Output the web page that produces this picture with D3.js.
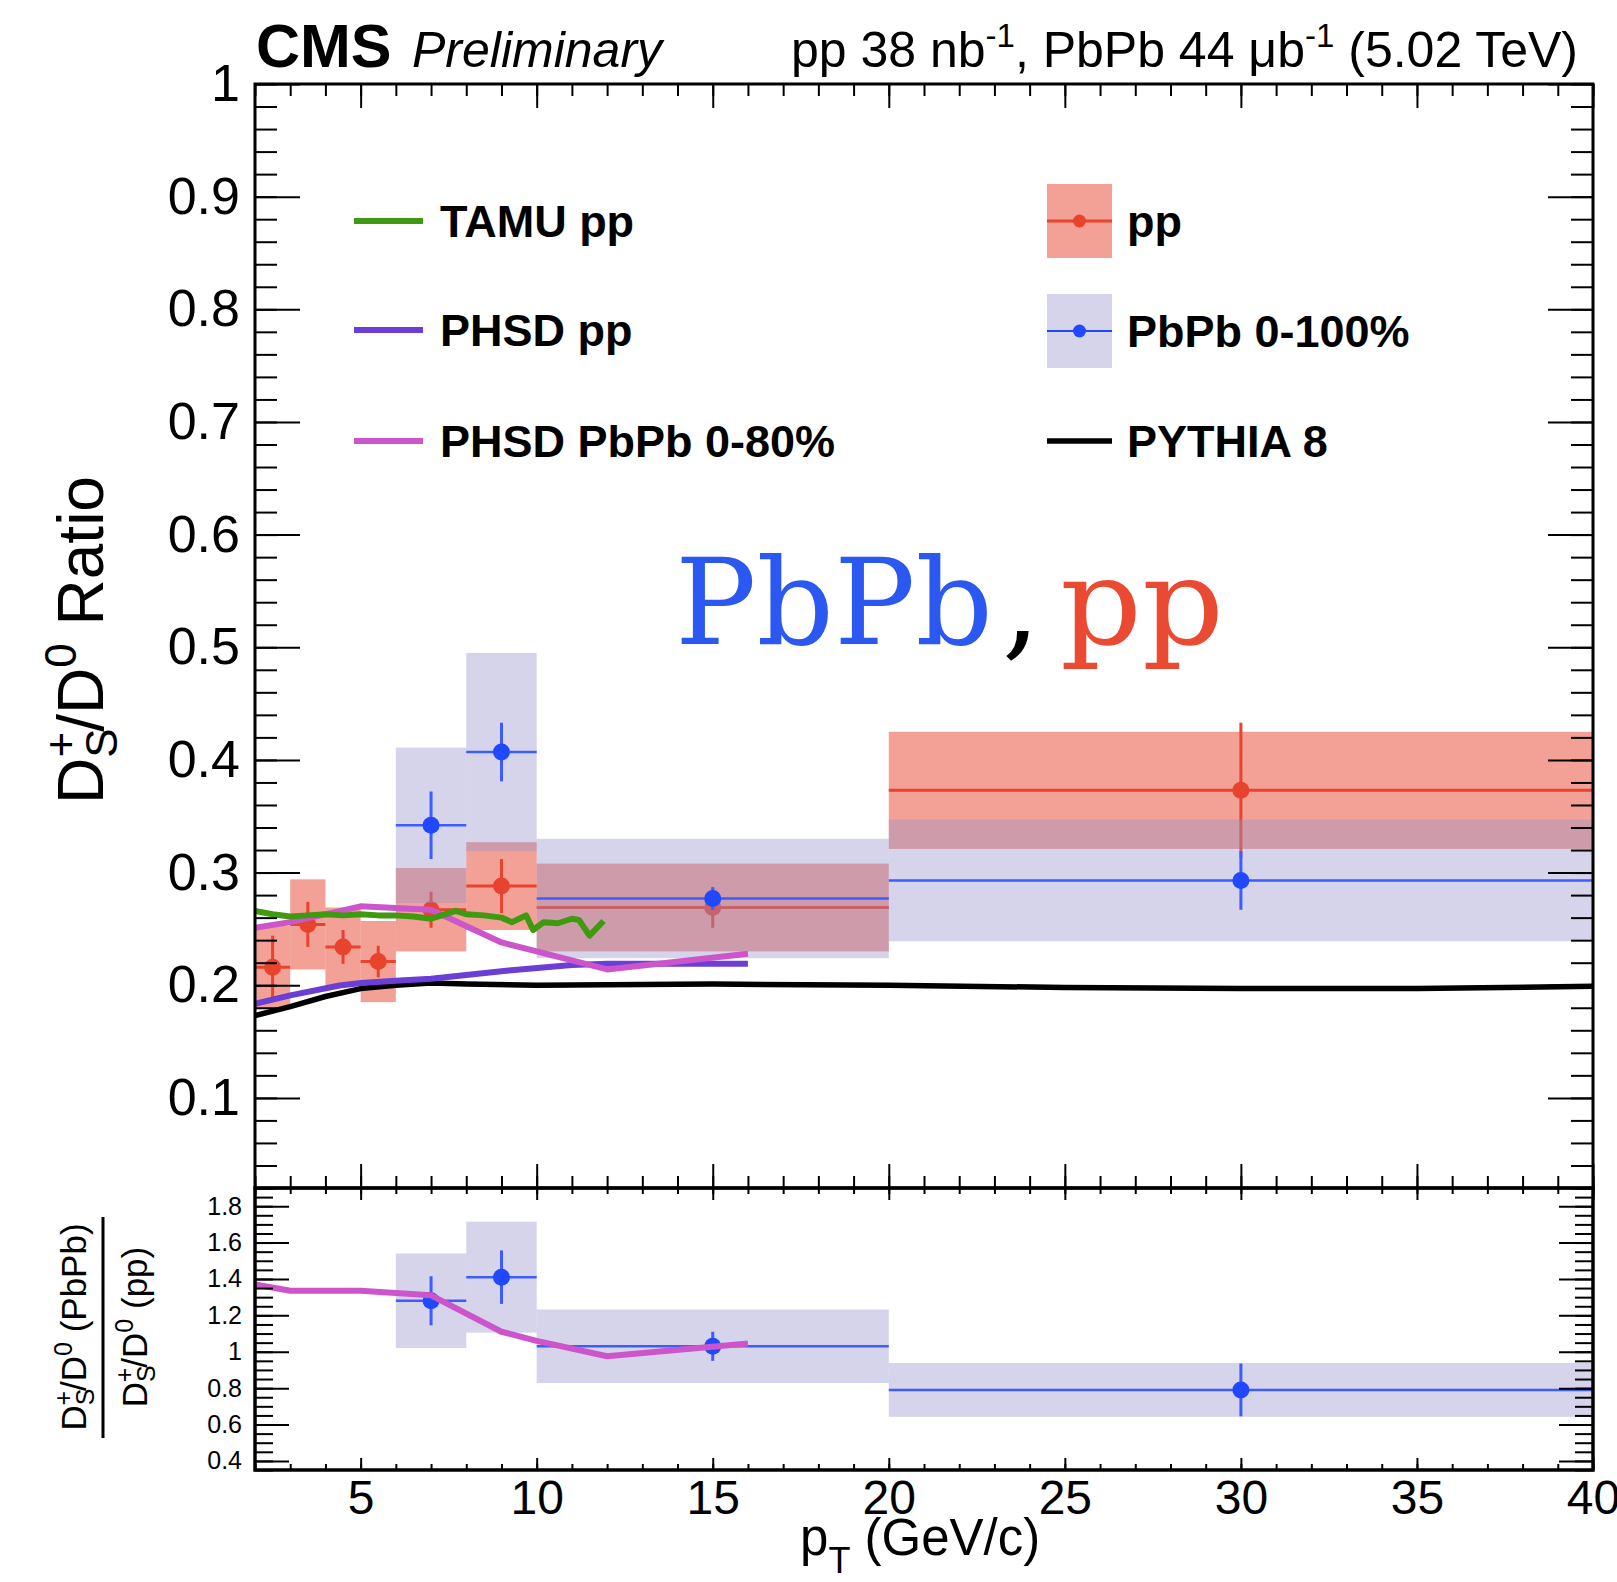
<!DOCTYPE html>
<html>
<head>
<meta charset="utf-8">
<script src="https://cdn.jsdelivr.net/npm/d3@7"></script>
<style>
body { margin: 0; background: #fff; }
svg text { font-family: "Liberation Sans", Arial, Helvetica, sans-serif; }
svg text.big { font-family: "DejaVu Serif", "Courier New", serif; }
</style>
</head>
<body>
<svg id="chart" width="1617" height="1582"></svg>
<script>
// pp data, D_s/D0 ratio per pT bin
var ppLo = [2, 3, 4, 5, 6, 8, 10, 20];
var ppHi = [3, 4, 5, 6, 8, 10, 20, 40];
var ppPt = [2.5, 3.5, 4.5, 5.5, 7, 9, 15, 30];
var ppVal = [0.216, 0.254, 0.234, 0.221, 0.267, 0.288, 0.269, 0.373];
var ppStat = [0.028, 0.020, 0.015, 0.014, 0.016, 0.024, 0.018, 0.060];
var ppSyst = [0.037, 0.040, 0.035, 0.036, 0.037, 0.039, 0.039, 0.052];

// PbPb 0-100%
var pbLo = [6, 8, 10, 20];
var pbHi = [8, 10, 20, 40];
var pbPt = [7, 9, 15, 30];
var pbVal = [0.342, 0.407, 0.277, 0.293];
var pbStat = [0.030, 0.026, 0.010, 0.026];
var pbSyst = [0.069, 0.088, 0.053, 0.054];

// PbPb / pp double ratio
var ratioVal = [1.28, 1.41, 1.03, 0.79];
var ratioStat = [0.135, 0.147, 0.080, 0.145];
var ratioSyst = [0.260, 0.305, 0.202, 0.148];

// model curves
var pythiaPt = [2, 3, 4, 5, 6, 7, 8, 10, 15, 20, 25, 30, 35, 40];
var pythiaVal = [0.173, 0.181, 0.190, 0.197, 0.200, 0.202, 0.201, 0.200, 0.201, 0.200, 0.198, 0.197, 0.197, 0.199];
var phsdPpPt = [2, 3, 4.4, 5, 6, 7, 9.2, 11, 12, 16];
var phsdPpVal = [0.1835, 0.191, 0.1998, 0.202, 0.204, 0.2057, 0.213, 0.218, 0.219, 0.219];
var phsdPbPt = [2, 3, 5, 7, 9, 10, 12, 16];
var phsdPbVal = [0.251, 0.256, 0.270, 0.267, 0.238, 0.230, 0.214, 0.228];
var tamuPt = [2, 2.5, 3, 3.5, 4, 4.5, 5, 5.5, 6, 6.5, 7, 7.3, 7.7, 8, 8.5, 9, 9.3, 9.5, 9.7, 9.9, 10.2, 10.6, 11, 11.2, 11.5, 11.9];
var tamuVal = [0.266, 0.263, 0.261, 0.262, 0.263, 0.262, 0.263, 0.262, 0.262, 0.261, 0.259, 0.262, 0.266, 0.263, 0.262, 0.260, 0.256, 0.259, 0.262, 0.249, 0.256, 0.255, 0.259, 0.258, 0.244, 0.257];
var ratioModelPt = [2, 3, 5, 7, 9, 10, 12, 16];
var ratioModelVal = [1.37, 1.335, 1.335, 1.31, 1.11, 1.06, 0.975, 1.045];

// tick labels
var mainTicks = [0.1, 0.2, 0.3, 0.4, 0.5, 0.6, 0.7, 0.8, 0.9, 1];
var ratioTicks = [0.4, 0.6, 0.8, 1, 1.2, 1.4, 1.6, 1.8];
var ptTicks = [5, 10, 15, 20, 25, 30, 35, 40];

var red = "#e8432d", blue = "#2048ff";
var ppFill = "rgba(232,66,46,0.5)", pbFill = "rgba(150,147,202,0.4)";

var svg = d3.select("#chart");
var L = 255, R = 1593, T = 84, M = 1188, B = 1470;

var x = d3.scaleLinear().domain([2, 40]).range([L, R]);
var y = d3.scaleLinear().domain([0.02, 1]).range([M, T]);
var yr = d3.scaleLinear().domain([0.35, 1.9]).range([B, M]);

var defs = svg.append("defs");
defs.append("clipPath").attr("id", "clipMain").append("rect")
    .attr("x", L).attr("y", T).attr("width", R - L).attr("height", M - T);
defs.append("clipPath").attr("id", "clipRatio").append("rect")
    .attr("x", L).attr("y", M).attr("width", R - L).attr("height", B - M);

var fmt = function (d) { return d === 1 ? "1" : d3.format(".1f")(d); };

function ticks(g, axis) {
    g.call(axis);
    g.select(".domain").remove();
    g.selectAll(".tick line").attr("stroke", "#000").attr("stroke-width", 2);
    return g;
}

// ---- main panel data
var main = svg.append("g").attr("clip-path", "url(#clipMain)");

main.selectAll("rect.pp").data(ppVal).enter().append("rect")
    .attr("x", function (d, i) { return x(ppLo[i]); })
    .attr("width", function (d, i) { return x(ppHi[i]) - x(ppLo[i]); })
    .attr("y", function (d, i) { return y(d + ppSyst[i]); })
    .attr("height", function (d, i) { return y(d - ppSyst[i]) - y(d + ppSyst[i]); })
    .attr("fill", ppFill);
main.selectAll("line.ppx").data(ppVal).enter().append("line")
    .attr("x1", function (d, i) { return x(ppLo[i]); })
    .attr("x2", function (d, i) { return x(ppHi[i]); })
    .attr("y1", function (d) { return y(d); }).attr("y2", function (d) { return y(d); })
    .attr("stroke", red).attr("stroke-width", 3);
main.selectAll("line.ppy").data(ppVal).enter().append("line")
    .attr("x1", function (d, i) { return x(ppPt[i]); })
    .attr("x2", function (d, i) { return x(ppPt[i]); })
    .attr("y1", function (d, i) { return y(d + ppStat[i]); })
    .attr("y2", function (d, i) { return y(d - ppStat[i]); })
    .attr("stroke", red).attr("stroke-width", 3);
main.selectAll("circle.pp").data(ppVal).enter().append("circle")
    .attr("cx", function (d, i) { return x(ppPt[i]); })
    .attr("cy", function (d) { return y(d); })
    .attr("r", 8.5).attr("fill", red);

main.selectAll("rect.pb").data(pbVal).enter().append("rect")
    .attr("x", function (d, i) { return x(pbLo[i]); })
    .attr("width", function (d, i) { return x(pbHi[i]) - x(pbLo[i]); })
    .attr("y", function (d, i) { return y(d + pbSyst[i]); })
    .attr("height", function (d, i) { return y(d - pbSyst[i]) - y(d + pbSyst[i]); })
    .attr("fill", pbFill);
main.selectAll("line.pbx").data(pbVal).enter().append("line")
    .attr("x1", function (d, i) { return x(pbLo[i]); })
    .attr("x2", function (d, i) { return x(pbHi[i]); })
    .attr("y1", function (d) { return y(d); }).attr("y2", function (d) { return y(d); })
    .attr("stroke", "#3c5cff").attr("stroke-width", 2.5);
main.selectAll("line.pby").data(pbVal).enter().append("line")
    .attr("x1", function (d, i) { return x(pbPt[i]); })
    .attr("x2", function (d, i) { return x(pbPt[i]); })
    .attr("y1", function (d, i) { return y(d + pbStat[i]); })
    .attr("y2", function (d, i) { return y(d - pbStat[i]); })
    .attr("stroke", "#3c5cff").attr("stroke-width", 3);
main.selectAll("circle.pb").data(pbVal).enter().append("circle")
    .attr("cx", function (d, i) { return x(pbPt[i]); })
    .attr("cy", function (d) { return y(d); })
    .attr("r", 8.5).attr("fill", blue);

function curve(g, xs, ys, ysc, color, w) {
    var line = d3.line().x(function (d) { return x(d[0]); }).y(function (d) { return ysc(d[1]); });
    g.append("path").datum(d3.zip(xs, ys)).attr("d", line)
        .attr("fill", "none").attr("stroke", color).attr("stroke-width", w)
        .attr("stroke-linejoin", "round");
}
curve(main, pythiaPt, pythiaVal, y, "#000", 5.5);
curve(main, phsdPpPt, phsdPpVal, y, "#6b3fd6", 6);
curve(main, phsdPbPt, phsdPbVal, y, "#cc55cc", 6);
curve(main, tamuPt, tamuVal, y, "#3f9a12", 6);

// ---- ratio panel
var rp = svg.append("g").attr("clip-path", "url(#clipRatio)");
rp.selectAll("rect").data(ratioVal).enter().append("rect")
    .attr("x", function (d, i) { return x(pbLo[i]); })
    .attr("width", function (d, i) { return x(pbHi[i]) - x(pbLo[i]); })
    .attr("y", function (d, i) { return yr(d + ratioSyst[i]); })
    .attr("height", function (d, i) { return yr(d - ratioSyst[i]) - yr(d + ratioSyst[i]); })
    .attr("fill", pbFill);
rp.selectAll("line.rx").data(ratioVal).enter().append("line")
    .attr("x1", function (d, i) { return x(pbLo[i]); })
    .attr("x2", function (d, i) { return x(pbHi[i]); })
    .attr("y1", function (d) { return yr(d); }).attr("y2", function (d) { return yr(d); })
    .attr("stroke", "#3c5cff").attr("stroke-width", 2.5);
rp.selectAll("line.ry").data(ratioVal).enter().append("line")
    .attr("x1", function (d, i) { return x(pbPt[i]); })
    .attr("x2", function (d, i) { return x(pbPt[i]); })
    .attr("y1", function (d, i) { return yr(d + ratioStat[i]); })
    .attr("y2", function (d, i) { return yr(d - ratioStat[i]); })
    .attr("stroke", "#3c5cff").attr("stroke-width", 3);
rp.selectAll("circle").data(ratioVal).enter().append("circle")
    .attr("cx", function (d, i) { return x(pbPt[i]); })
    .attr("cy", function (d) { return yr(d); })
    .attr("r", 8.5).attr("fill", blue);
curve(rp, ratioModelPt, ratioModelVal, yr, "#cc55cc", 6);

// ---- axes and ticks
var ptMinor = d3.range(2, 41);
ticks(svg.append("g").attr("transform", "translate(0," + M + ")"),
    d3.axisBottom(x).tickValues(ptMinor).tickSize(-12).tickFormat(""));
ticks(svg.append("g").attr("transform", "translate(0," + M + ")"),
    d3.axisBottom(x).tickValues(ptTicks).tickSize(-24).tickFormat(""));
ticks(svg.append("g").attr("transform", "translate(0," + T + ")"),
    d3.axisTop(x).tickValues(ptMinor).tickSize(-12).tickFormat(""));
ticks(svg.append("g").attr("transform", "translate(0," + T + ")"),
    d3.axisTop(x).tickValues(ptTicks).tickSize(-24).tickFormat(""));

var yMinor = d3.range(1, 51).map(function (i) { return i * 0.02; });
ticks(svg.append("g").attr("transform", "translate(" + L + ",0)"),
    d3.axisLeft(y).tickValues(yMinor).tickSize(-22).tickFormat(""));
var yl = ticks(svg.append("g").attr("transform", "translate(" + L + ",0)"),
    d3.axisLeft(y).tickValues(mainTicks).tickSize(-45).tickPadding(15).tickFormat(fmt));
yl.selectAll("text").attr("font-size", 52).attr("font-family", "Liberation Sans, Arial, sans-serif").attr("fill", "#000");
ticks(svg.append("g").attr("transform", "translate(" + R + ",0)"),
    d3.axisRight(y).tickValues(yMinor).tickSize(-22).tickFormat(""));
ticks(svg.append("g").attr("transform", "translate(" + R + ",0)"),
    d3.axisRight(y).tickValues(mainTicks).tickSize(-45).tickFormat(""));

// ratio panel ticks
ticks(svg.append("g").attr("transform", "translate(0," + M + ")"),
    d3.axisTop(x).tickValues(ptMinor).tickSize(-6).tickFormat(""));
ticks(svg.append("g").attr("transform", "translate(0," + M + ")"),
    d3.axisTop(x).tickValues(ptTicks).tickSize(-12).tickFormat(""));
ticks(svg.append("g").attr("transform", "translate(0," + B + ")"),
    d3.axisBottom(x).tickValues(ptMinor).tickSize(-6).tickFormat(""));
var xl = ticks(svg.append("g").attr("transform", "translate(0," + B + ")"),
    d3.axisBottom(x).tickValues(ptTicks).tickSize(-12).tickPadding(10).tickFormat(d3.format("d")));
xl.selectAll("text").attr("font-size", 48).attr("font-family", "Liberation Sans, Arial, sans-serif").attr("fill", "#000");

var rMinor = d3.range(7, 39).map(function (i) { return i * 0.05; });
ticks(svg.append("g").attr("transform", "translate(" + L + ",0)"),
    d3.axisLeft(yr).tickValues(rMinor).tickSize(-18).tickFormat(""));
var ryl = ticks(svg.append("g").attr("transform", "translate(" + L + ",0)"),
    d3.axisLeft(yr).tickValues(ratioTicks).tickSize(-34).tickPadding(13).tickFormat(fmt));
ryl.selectAll("text").attr("font-size", 25).attr("font-family", "Liberation Sans, Arial, sans-serif").attr("fill", "#000");
ticks(svg.append("g").attr("transform", "translate(" + R + ",0)"),
    d3.axisRight(yr).tickValues(rMinor).tickSize(-18).tickFormat(""));
ticks(svg.append("g").attr("transform", "translate(" + R + ",0)"),
    d3.axisRight(yr).tickValues(ratioTicks).tickSize(-34).tickFormat(""));

// frames
svg.append("rect").attr("x", L).attr("y", T).attr("width", R - L).attr("height", M - T)
    .attr("fill", "none").attr("stroke", "#000").attr("stroke-width", 3);
svg.append("rect").attr("x", L).attr("y", M).attr("width", R - L).attr("height", B - M)
    .attr("fill", "none").attr("stroke", "#000").attr("stroke-width", 3.5);

// ---- header texts
svg.append("text").attr("x", 256).attr("y", 67).attr("font-size", 61)
    .attr("font-weight", "bold").text("CMS");
svg.append("text").attr("x", 412).attr("y", 67).attr("font-size", 50)
    .attr("font-style", "italic").text("Preliminary");
var lumi = svg.append("text").attr("x", 1578).attr("y", 67).attr("font-size", 50)
    .attr("text-anchor", "end");
lumi.append("tspan").text("pp 38 nb");
lumi.append("tspan").attr("dy", -20).attr("font-size", 33).text("-1");
lumi.append("tspan").attr("dy", 20).text(", PbPb 44 \u03bcb");
lumi.append("tspan").attr("dy", -20).attr("font-size", 33).text("-1");
lumi.append("tspan").attr("dy", 20).text(" (5.02 TeV)");

// ---- axis titles
var xt = svg.append("text").attr("x", 800).attr("y", 1555).attr("font-size", 51);
xt.append("tspan").text("p");
xt.append("tspan").attr("dy", 18).attr("font-size", 36).text("T");
xt.append("tspan").attr("dy", -18).text(" (GeV/c)");

var yt = svg.append("text").attr("transform", "translate(103,804) rotate(-90)")
    .attr("font-size", 64);
yt.append("tspan").text("D");
yt.append("tspan").attr("dy", 14).attr("font-size", 44).text("S");
yt.append("tspan").attr("dx", -29).attr("dy", -41).attr("font-size", 44).text("+");
yt.append("tspan").attr("dy", 27).text("/D");
yt.append("tspan").attr("dy", -27).attr("font-size", 44).text("0");
yt.append("tspan").attr("dy", 27).text(" Ratio");

function dsLabel(tx, ty, tail) {
    var t = svg.append("text").attr("transform", "translate(" + tx + "," + ty + ") rotate(-90)")
        .attr("font-size", 35).attr("text-anchor", "middle");
    t.append("tspan").text("D");
    t.append("tspan").attr("dy", 8).attr("font-size", 25).text("S");
    t.append("tspan").attr("dx", -17).attr("dy", -22).attr("font-size", 25).text("+");
    t.append("tspan").attr("dy", 14).text("/D");
    t.append("tspan").attr("dy", -14).attr("font-size", 25).text("0");
    t.append("tspan").attr("dy", 14).text(tail);
}
dsLabel(86, 1327, " (PbPb)");
dsLabel(147, 1327, " (pp)");
svg.append("line").attr("x1", 103).attr("x2", 103).attr("y1", 1217).attr("y2", 1438)
    .attr("stroke", "#000").attr("stroke-width", 3);

// ---- legend
var leg = svg.append("g").attr("font-size", 45).attr("font-weight", "bold");
var legLines = [["TAMU pp", "#3f9a12", 221], ["PHSD pp", "#6b3fd6", 330], ["PHSD PbPb 0-80%", "#cc55cc", 441]];
legLines.forEach(function (e) {
    leg.append("line").attr("x1", 354).attr("x2", 423).attr("y1", e[2]).attr("y2", e[2])
        .attr("stroke", e[1]).attr("stroke-width", 6);
    leg.append("text").attr("x", 440).attr("y", e[2] + 16).text(e[0]);
});
var legBoxes = [["pp", ppFill, red, 221, 3], ["PbPb 0-100%", pbFill, blue, 331, 2]];
legBoxes.forEach(function (e) {
    leg.append("rect").attr("x", 1047).attr("y", e[3] - 37).attr("width", 65).attr("height", 74)
        .attr("fill", e[1]);
    leg.append("line").attr("x1", 1047).attr("x2", 1112).attr("y1", e[3]).attr("y2", e[3])
        .attr("stroke", e[2]).attr("stroke-width", e[4]);
    leg.append("circle").attr("cx", 1079.5).attr("cy", e[3]).attr("r", 6.5).attr("fill", e[2]);
    leg.append("text").attr("x", 1127).attr("y", e[3] + 16).text(e[0]);
});
leg.append("line").attr("x1", 1047).attr("x2", 1112).attr("y1", 441).attr("y2", 441)
    .attr("stroke", "#000").attr("stroke-width", 5.5);
leg.append("text").attr("x", 1127).attr("y", 457).text("PYTHIA 8");

// ---- big annotation
var ann = svg.append("g").attr("font-size", 120);
ann.append("text").attr("class", "big").attr("x", 675).attr("y", 644).attr("fill", "#2a58f0")
    .attr("textLength", 318).attr("lengthAdjust", "spacingAndGlyphs").text("PbPb");
ann.append("text").attr("class", "big").attr("x", 1002).attr("y", 644).attr("fill", "#000").text(",");
ann.append("text").attr("class", "big").attr("x", 1060).attr("y", 644).attr("fill", "#ea4a32")
    .attr("textLength", 164).attr("lengthAdjust", "spacingAndGlyphs").text("pp");
</script>
</body>
</html>
